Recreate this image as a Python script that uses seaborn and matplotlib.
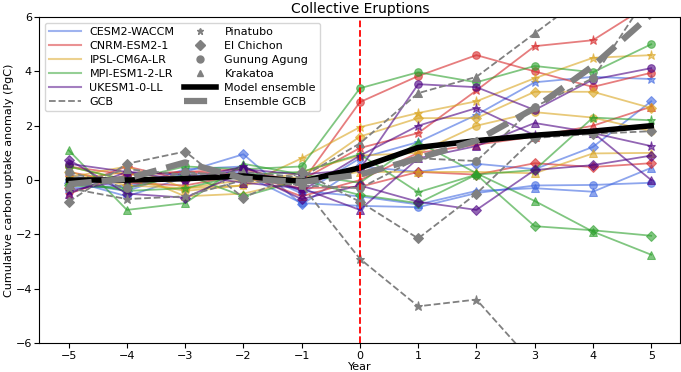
import numpy as np
import pandas as pd
import seaborn as sns
import matplotlib.pyplot as plt
from matplotlib.lines import Line2D

years = [-5, -4, -3, -2, -1, 0, 1, 2, 3, 4, 5]
models = ['CESM2-WACCM', 'CNRM-ESM2-1', 'IPSL-CM6A-LR', 'MPI-ESM1-2-LR', 'UKESM1-0-LL']
eruptions = ['Pinatubo', 'El Chichon', 'Gunung Agung', 'Krakatoa']

# model runs, one list per eruption (Pinatubo, El Chichon, Gunung Agung, Krakatoa)
cesm = [
    [0.2, -0.3, 0.4, 0.5, -0.5, 0.8, 1.4, 2.4, 3.6, 3.8, 3.72],
    [-0.1, -0.4, 0.3, 0.95, -0.9, 0.5, 0.3, 0.6, 0.4, 1.22, 2.9],
    [0.0, -0.6, 0.1, 0.2, -0.85, -0.95, -1.0, -0.48, -0.2, -0.18, -0.1],
    [-0.3, -0.2, 0.2, 0.3, -0.4, -0.6, -0.9, -0.4, -0.3, -0.43, 0.45],
]
cnrm = [
    [-0.5, 0.2, 0.3, 0.2, 0.0, 1.18, 1.73, 3.3, 4.93, 5.15, 6.5],
    [-0.3, 0.5, 0.0, 0.1, -0.3, -0.25, 0.3, 0.2, 0.62, 0.48, 0.62],
    [0.5, 0.2, 0.3, 0.4, -0.1, 2.87, 3.83, 4.6, 4.0, 3.43, 3.95],
    [0.3, -0.1, -0.2, 0.2, -0.6, 0.0, 1.0, 1.3, 1.6, 2.0, 2.7],
]
ipsl = [
    [0.1, 0.5, -0.3, -0.2, 0.8, 1.95, 2.47, 2.9, 3.75, 4.5, 4.6],
    [0.3, -0.2, -0.3, 0.0, 0.1, 1.6, 2.28, 2.28, 3.25, 3.25, 2.65],
    [0.5, 0.0, -0.4, -0.2, 0.3, 0.9, 1.0, 2.0, 2.5, 2.3, 1.8],
    [0.0, 0.3, -0.6, -0.5, 0.0, 0.3, 0.3, 0.3, 0.25, 0.98, 1.0],
]
mpi = [
    [0.0, -0.4, -0.3, 0.2, 0.3, 0.95, -0.45, 0.2, 0.37, 2.3, 2.2],
    [-0.2, -0.3, 0.2, -0.6, 0.0, -0.55, -0.85, 0.2, -1.7, -1.85, -2.05],
    [0.5, 0.0, 0.5, 0.4, 0.5, 3.38, 3.97, 3.6, 4.2, 3.97, 5.0],
    [1.1, -1.1, -0.85, 0.6, 0.2, -0.1, 1.4, 0.25, -0.77, -1.9, -2.75],
]
ukesm = [
    [-0.4, 0.0, 0.0, 0.5, -0.4, 0.9, 2.0, 2.65, 1.65, 1.73, 1.25],
    [0.75, -0.5, -0.65, 0.3, -0.7, -0.2, -0.8, -1.1, 0.37, 0.55, 0.9],
    [0.6, 0.3, 0.0, 0.4, 0.2, 0.4, 3.53, 3.42, 2.58, 3.7, 4.12],
    [-0.5, 0.3, 0.2, -0.1, -0.3, -1.1, 0.8, 1.25, 2.1, 1.75, 0.0],
]

# GCB observations per eruption
gcb = [
    [-0.3, -0.7, -0.6, 0.0, -0.2, -2.9, -4.65, -4.4, -6.8, -8.5, -9.5],
    [-0.8, 0.6, 1.05, -0.65, 0.3, -0.8, -2.15, -0.5, 1.55, 1.7, 1.8],
    [0.3, -0.3, 0.3, 0.1, -0.2, -0.3, 0.8, 0.7, 2.7, 3.75, 7.0],
    [-0.2, 0.4, 0.2, 0.3, 0.1, 1.35, 3.2, 3.8, 5.4, 7.0, 8.0],
]

model_ensemble = [0.0, 0.0, 0.05, 0.15, -0.05, 0.45, 1.2, 1.45, 1.65, 1.8, 2.0]
ensemble_gcb = [-0.15, 0.05, 0.65, 0.05, -0.07, 0.2, 0.8, 1.45, 2.65, 4.2, 6.1]

colors = ['royalblue', 'tab:red', 'goldenrod', 'tab:green', 'indigo']
markers = {'Pinatubo': '*', 'El Chichon': 'D', 'Gunung Agung': 'o', 'Krakatoa': '^'}
msize = {'Pinatubo': 6.5, 'El Chichon': 5, 'Gunung Agung': 5.5, 'Krakatoa': 5.5}

rows = []
for m, runs in zip(models, [cesm, cnrm, ipsl, mpi, ukesm]):
    for e, vals in zip(eruptions, runs):
        for y, v in zip(years, vals):
            rows.append({'model': m, 'eruption': e, 'year': y, 'value': v})
df = pd.DataFrame(rows)

gcb_df = pd.DataFrame([{'eruption': e, 'year': y, 'value': v}
                       for e, vals in zip(eruptions, gcb) for y, v in zip(years, vals)])
ens_df = pd.DataFrame({'year': years, 'model': model_ensemble, 'gcb': ensemble_gcb})

fig, ax = plt.subplots(figsize=(6.81, 3.72), dpi=100)

for m, c in zip(models, colors):
    for e in eruptions:
        sub = df[(df.model == m) & (df.eruption == e)]
        sns.lineplot(data=sub, x='year', y='value', color=c, marker=markers[e],
                     markersize=msize[e], alpha=0.6, lw=1.3,
                     markeredgecolor=c, ax=ax)

for e in eruptions:
    sub = gcb_df[gcb_df.eruption == e]
    sns.lineplot(data=sub, x='year', y='value', color='grey', ls='--', lw=1.3,
                 marker=markers[e], markersize=msize[e],
                 markeredgecolor='grey', ax=ax)

sns.lineplot(data=ens_df, x='year', y='model', color='black', lw=4, ax=ax)
sns.lineplot(data=ens_df, x='year', y='gcb', color='grey', lw=4.5, ls='--', ax=ax)

ax.axvline(0, color='red', ls='--', lw=1.3)

ax.set_ylim(-6, 6)
ax.set_xlim(-5.5, 5.5)
ax.set_xticks(years)
ax.tick_params(labelsize=8, pad=2)
ax.set_xlabel('Year', fontsize=8, labelpad=1)
ax.set_ylabel('Cumulative carbon uptake anomaly (PgC)', fontsize=8, labelpad=1)
ax.set_title('Collective Eruptions', fontsize=10, pad=3)

handles = [Line2D([], [], color=c, alpha=0.5, lw=1.5) for c in colors]
handles.append(Line2D([], [], color='grey', ls='--', lw=1.3))
handles += [Line2D([], [], color='grey', ls='', marker=markers[e], markersize=5) for e in eruptions]
handles.append(Line2D([], [], color='black', lw=4))
handles.append(Line2D([], [], color='grey', lw=4.5, ls='--'))
labels = models + ['GCB'] + eruptions + ['Model ensemble', 'Ensemble GCB']
ax.legend(handles, labels, loc='upper left', ncol=2, fontsize=8,
          handlelength=2.8, columnspacing=0.9, labelspacing=0.35)

plt.subplots_adjust(left=0.058, right=0.999, top=0.954, bottom=0.078)
plt.savefig('out.png', dpi=100)
